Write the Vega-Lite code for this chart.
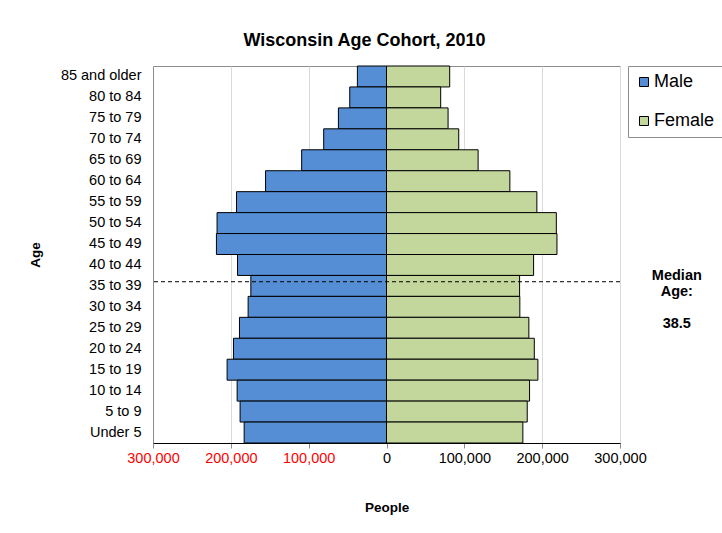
{
  "$schema": "https://vega.github.io/schema/vega-lite/v6.json",
  "autosize": "none",
  "width": 467,
  "height": 377,
  "padding": {"left": 153, "top": 66, "right": 102, "bottom": 90},
  "background": "white",
  "config": {
    "font": "Liberation Sans",
    "view": {"stroke": "#8c8c8c", "strokeWidth": 1}
  },
  "title": {
    "text": "Wisconsin Age Cohort, 2010",
    "fontSize": 18,
    "fontWeight": "bold",
    "color": "black",
    "anchor": "middle",
    "dx": -22,
    "offset": 16
  },
  "datasets": {
    "pop": [
      {"age": "85 and older", "sex": "Male", "value": -37400},
      {"age": "80 to 84", "sex": "Male", "value": -47200},
      {"age": "75 to 79", "sex": "Male", "value": -61800},
      {"age": "70 to 74", "sex": "Male", "value": -80700},
      {"age": "65 to 69", "sex": "Male", "value": -109000},
      {"age": "60 to 64", "sex": "Male", "value": -155400},
      {"age": "55 to 59", "sex": "Male", "value": -192700},
      {"age": "50 to 54", "sex": "Male", "value": -217700},
      {"age": "45 to 49", "sex": "Male", "value": -218500},
      {"age": "40 to 44", "sex": "Male", "value": -191400},
      {"age": "35 to 39", "sex": "Male", "value": -174300},
      {"age": "30 to 34", "sex": "Male", "value": -177800},
      {"age": "25 to 29", "sex": "Male", "value": -188900},
      {"age": "20 to 24", "sex": "Male", "value": -196600},
      {"age": "15 to 19", "sex": "Male", "value": -204800},
      {"age": "10 to 14", "sex": "Male", "value": -191900},
      {"age": "5 to 9", "sex": "Male", "value": -188100},
      {"age": "Under 5", "sex": "Male", "value": -182900},
      {"age": "85 and older", "sex": "Female", "value": 81200},
      {"age": "80 to 84", "sex": "Female", "value": 69600},
      {"age": "75 to 79", "sex": "Female", "value": 79100},
      {"age": "70 to 74", "sex": "Female", "value": 92800},
      {"age": "65 to 69", "sex": "Female", "value": 117700},
      {"age": "60 to 64", "sex": "Female", "value": 158500},
      {"age": "55 to 59", "sex": "Female", "value": 193200},
      {"age": "50 to 54", "sex": "Female", "value": 218200},
      {"age": "45 to 49", "sex": "Female", "value": 219000},
      {"age": "40 to 44", "sex": "Female", "value": 189000},
      {"age": "35 to 39", "sex": "Female", "value": 171000},
      {"age": "30 to 34", "sex": "Female", "value": 171300},
      {"age": "25 to 29", "sex": "Female", "value": 182900},
      {"age": "20 to 24", "sex": "Female", "value": 189900},
      {"age": "15 to 19", "sex": "Female", "value": 194500},
      {"age": "10 to 14", "sex": "Female", "value": 183800},
      {"age": "5 to 9", "sex": "Female", "value": 180800},
      {"age": "Under 5", "sex": "Female", "value": 175200}
    ],
    "median": [{"label": "Median Age:", "median": 38.5}]
  },
  "layer": [
    {
      "data": {"name": "pop"},
      "mark": {"type": "bar", "stroke": "black", "strokeWidth": 1},
      "encoding": {
        "y": {
          "field": "age",
          "type": "nominal",
          "sort": ["85 and older", "80 to 84", "75 to 79", "70 to 74", "65 to 69", "60 to 64", "55 to 59", "50 to 54", "45 to 49", "40 to 44", "35 to 39", "30 to 34", "25 to 29", "20 to 24", "15 to 19", "10 to 14", "5 to 9", "Under 5"],
          "scale": {"paddingInner": 0, "paddingOuter": 0},
          "axis": {
            "title": "Age",
            "titleFontSize": 13.5,
            "titleFontWeight": "bold",
            "titleColor": "black",
            "titleX": -118,
            "titleY": 188.5,
            "titleAngle": -90,
            "titleBaseline": "middle",
            "labelFontSize": 14.5,
            "labelColor": "black",
            "labelPadding": 12,
            "ticks": false,
            "domainColor": "#8c8c8c",
            "grid": false
          }
        },
        "x": {
          "field": "value",
          "type": "quantitative",
          "scale": {"domain": [-300000, 300000], "nice": false},
          "axis": {
            "values": [-300000, -200000, -100000, 0, 100000, 200000, 300000],
            "labelExpr": "format(abs(datum.value), ',')",
            "labelColor": {"condition": {"test": "datum.value < 0", "value": "#ff0000"}, "value": "black"},
            "labelFontSize": 14.5,
            "labelFlush": false,
            "labelOverlap": false,
            "labelPadding": 3,
            "tickSize": 5,
            "tickColor": "#8c8c8c",
            "domainColor": "black",
            "grid": true,
            "gridColor": "#d9d9d9",
            "title": "People",
            "titleFontSize": 13.5,
            "titleFontWeight": "bold",
            "titleColor": "black",
            "titleY": 64,
            "titleBaseline": "middle"
          }
        },
        "color": {
          "field": "sex",
          "type": "nominal",
          "sort": ["Male", "Female"],
          "scale": {"domain": ["Male", "Female"], "range": ["#558ed5", "#c3d69b"]},
          "legend": {
            "title": null,
            "orient": "none",
            "legendX": 475,
            "legendY": 0,
            "padding": 7,
            "rowPadding": 21,
            "strokeColor": "#8c8c8c",
            "fillColor": "white",
            "labelFontSize": 18,
            "labelColor": "black",
            "labelOffset": 1,
            "symbolType": "square",
            "symbolSize": 81,
            "symbolStrokeColor": "black",
            "symbolStrokeWidth": 1
          }
        }
      }
    },
    {
      "data": {"name": "median"},
      "layer": [
        {
          "mark": {"type": "rule", "strokeDash": [4, 3], "color": "black", "strokeWidth": 1},
          "encoding": {
            "y": {"field": "median", "type": "quantitative", "scale": {"domain": [0, 90], "nice": false, "zero": false}, "axis": null}
          }
        },
        {
          "mark": {"type": "text", "fontSize": 14.5, "fontWeight": "bold", "color": "black", "align": "center", "baseline": "middle", "lineHeight": 16, "lineBreak": " ", "dy": -6},
          "encoding": {
            "y": {"field": "median", "type": "quantitative", "scale": {"domain": [0, 90], "nice": false, "zero": false}, "axis": null},
            "x": {"datum": 373000, "type": "quantitative"},
            "text": {"field": "label"}
          }
        },
        {
          "mark": {"type": "text", "fontSize": 14.5, "fontWeight": "bold", "color": "black", "align": "center", "baseline": "middle", "dy": 42},
          "encoding": {
            "y": {"field": "median", "type": "quantitative", "scale": {"domain": [0, 90], "nice": false, "zero": false}, "axis": null},
            "x": {"datum": 373000, "type": "quantitative"},
            "text": {"field": "median", "format": ".1f"}
          }
        }
      ]
    }
  ],
  "resolve": {"scale": {"y": "independent"}, "axis": {"y": "independent"}}
}
